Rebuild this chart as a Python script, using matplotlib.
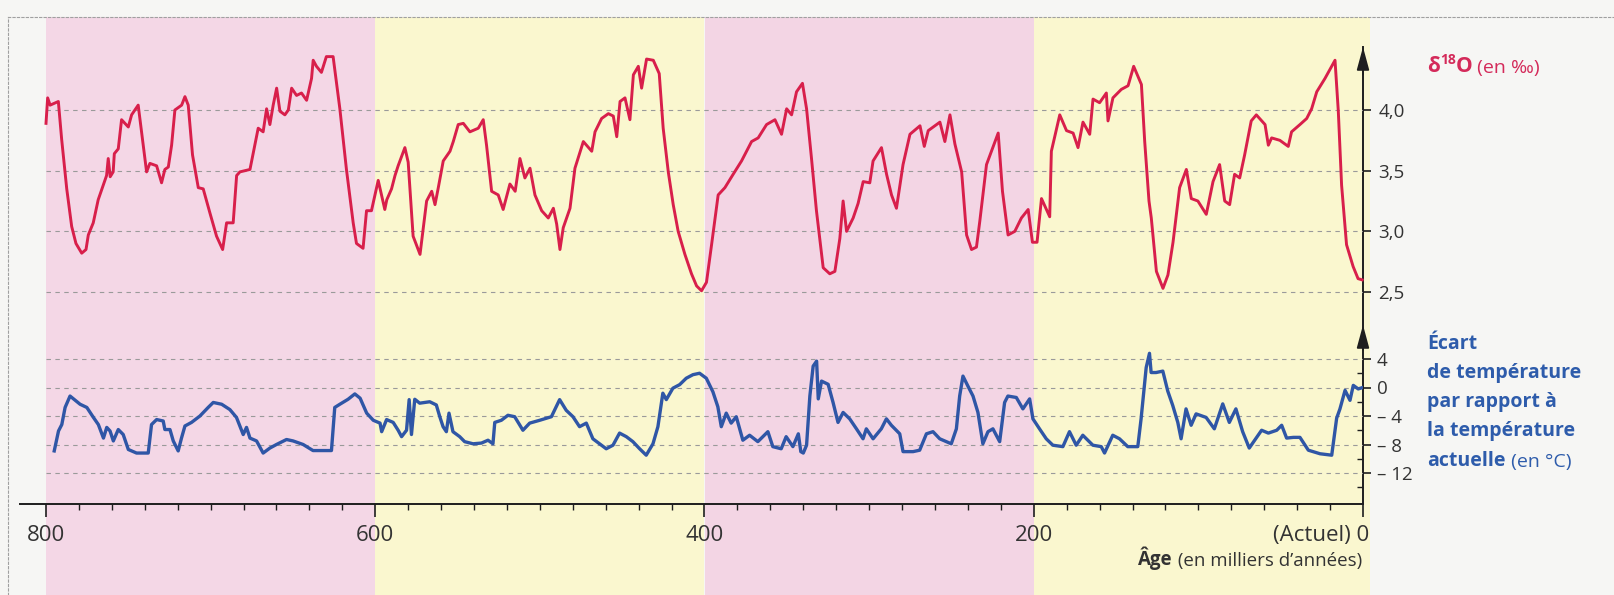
import matplotlib
matplotlib.use("Agg")
import matplotlib.pyplot as plt
from matplotlib.ticker import FixedLocator, MultipleLocator
from matplotlib.transforms import ScaledTranslation

plt.rcParams['font.family'] = ['Open Sans', 'DejaVu Sans']

# ---- data (age in kyr, values) ----
RED_AGE = [800, 799, 797.5, 792.5, 790.5, 787.4, 784.4, 781.8, 778.3, 775.7, 774.3, 771.3, 768.3,
           763.2, 762.2, 761, 759.2, 758.5, 756.1, 754.1, 750, 748, 744, 738.9, 736.9, 732.8, 729.8,
           727.8, 725.7, 723.7, 721.7, 717.6, 715.6, 713.6, 711, 707.5, 704.5, 700.4, 696.4, 692.7,
           690.3, 686.3, 684.2, 682.2, 676.1, 671.1, 668.1, 666, 664, 662, 659.9, 657.9, 654.9, 652.8,
           650.8, 647.8, 644.8, 641.7, 638.7, 637.7, 635.7, 632.7, 629.7, 625.6, 621.5, 617.5, 613.4,
           611.4, 607.4, 605.3, 602.3, 598.2, 594.2, 593, 590.1, 588, 586.1, 582, 580, 577, 572.8,
           570.8, 568.8, 565.7, 563.7, 561.7, 558.7, 554.6, 552.6, 549.6, 546.5, 542.5, 537.4, 534.4,
           532.4, 529.3, 525.3, 522.3, 518.2, 515, 512.1, 509.1, 506, 503, 498.9, 494.9, 491.8, 489.8,
           487.8, 485.8, 481.7, 478.7, 473.6, 468.5, 466.5, 462.5, 458.4, 455.4, 453.3, 451.3, 448.3,
           445.3, 443.2, 440.2, 438.2, 435.2, 431.1, 427.5, 425.1, 422, 419, 416, 411.9, 407.9, 404.8,
           401.8, 398.8, 395.7, 391.7, 387.6, 382.6, 377.5, 371.4, 367.4, 362.3, 357.2, 353.2, 350.1,
           347.1, 344.1, 340.5, 338, 335, 332, 327.9, 323.9, 320.8, 317.8, 315.8, 313.7, 309.7, 306.7,
           303.6, 299.6, 297.6, 292.5, 289.4, 286.4, 283.4, 279.4, 275.2, 269.1, 266.5, 264.1, 257,
           254, 250.9, 247.9, 243.8, 240.8, 237.8, 234.8, 232.8, 228.7, 225.7, 221.6, 219, 215.6,
           211.5, 207.5, 203.4, 200.8, 198, 195.3, 190.3, 189.3, 184.2, 180.1, 176.1, 173.1, 170.1,
           166, 164, 160, 155.9, 154.9, 151.9, 146.8, 142.7, 139.3, 134.6, 132.6, 130, 128.6, 125.5,
           121.5, 118.5, 115.4, 111.4, 107.3, 104.3, 100.3, 95.2, 91.1, 87.1, 84, 81, 78, 74.9, 71.9,
           67.9, 64.8, 59.5, 57.5, 55.5, 50.5, 45.4, 43.4, 38.3, 34.2, 31.2, 28.1, 23.1, 17, 15, 13,
           10, 6, 3, 0.5]
RED_D18O = [3.89, 4.10, 4.04, 4.07, 3.76, 3.35, 3.04, 2.90, 2.82, 2.85, 2.97, 3.07, 3.26,
            3.46, 3.60, 3.45, 3.49, 3.64, 3.68, 3.92, 3.86, 3.96, 4.04, 3.49, 3.56, 3.54, 3.40,
            3.51, 3.53, 3.71, 4.00, 4.04, 4.11, 4.04, 3.63, 3.36, 3.35, 3.15, 2.96, 2.85,
            3.07, 3.07, 3.46, 3.49, 3.51, 3.85, 3.82, 4.01, 3.88, 4.04, 4.18, 3.99, 3.96, 4.00,
            4.18, 4.12, 4.14, 4.08, 4.26, 4.41, 4.36, 4.31, 4.44, 4.44, 4.01, 3.51, 3.07,
            2.90, 2.86, 3.17, 3.17, 3.42, 3.18, 3.26, 3.35, 3.46, 3.54, 3.69, 3.57, 2.96, 2.81,
            3.03, 3.25, 3.33, 3.22, 3.36, 3.58, 3.66, 3.74, 3.88, 3.89, 3.82, 3.85, 3.92,
            3.71, 3.33, 3.30, 3.18, 3.39, 3.33, 3.60, 3.44, 3.52, 3.30, 3.17, 3.11, 3.19, 3.06,
            2.85, 3.03, 3.19, 3.52, 3.74, 3.66, 3.82, 3.93, 3.97, 3.95, 3.78, 4.07, 4.10,
            3.92, 4.29, 4.36, 4.18, 4.42, 4.41, 4.30, 3.85, 3.49, 3.22, 3.00, 2.81, 2.65, 2.55,
            2.51, 2.58, 2.89, 3.30, 3.36, 3.47, 3.58, 3.74, 3.77, 3.88, 3.92, 3.80, 4.01,
            3.96, 4.15, 4.22, 4.01, 3.60, 3.17, 2.70, 2.65, 2.67, 2.94, 3.25, 3.00, 3.11, 3.23,
            3.41, 3.40, 3.58, 3.69, 3.47, 3.30, 3.19, 3.55, 3.80, 3.87, 3.70, 3.83, 3.90,
            3.74, 3.96, 3.72, 3.49, 2.97, 2.85, 2.87, 3.08, 3.55, 3.66, 3.81, 3.33, 2.97,
            3.00, 3.11, 3.18, 2.91, 2.91, 3.27, 3.12, 3.66, 3.96, 3.83, 3.81, 3.69, 3.90,
            3.80, 4.09, 4.06, 4.14, 3.91, 4.10, 4.17, 4.20, 4.36, 4.21, 3.74, 3.25, 3.11, 2.67,
            2.53, 2.64, 2.91, 3.36, 3.51, 3.27, 3.25, 3.14, 3.41, 3.55, 3.25, 3.22, 3.47, 3.44, 3.63,
            3.91, 3.96, 3.88, 3.71, 3.77, 3.75, 3.70, 3.82, 3.88, 3.93, 4.01, 4.15, 4.26, 4.41, 3.99, 3.38,
            2.89, 2.71, 2.61, 2.60]

BLUE_AGE = [795, 792.4, 790.4, 788.4, 785.4, 779.3, 775.2, 771.2, 768.2, 765.1, 763.1, 761.1, 759.1,
            756.1, 753.1, 750, 745, 737.9, 735.9, 732.8, 728.8, 727.8, 724.7, 722.7, 719.7, 717.7,
            715.6, 711.6, 706.5, 701.5, 698.4, 693.3, 688.3, 684.3, 680.2, 678.2, 676.1, 672.1,
            668.1, 664, 660, 653.9, 649.9, 643.8, 637.8, 626.6, 624.6, 621.5, 616.5, 612.4, 609.2,
            605.2, 601.2, 597.1, 596.1, 593.1, 589.1, 586.1, 584, 581, 579.4, 578, 576, 573, 566.9,
            562.9, 560.8, 558.8, 556.8, 555.2, 552.8, 548.7, 545.7, 540.6, 535.5, 531.5, 528.5,
            527.4, 523.4, 519.4, 515.3, 510.3, 506.2, 500.1, 493, 488, 484, 479.9, 475.9, 471.8,
            467.8, 463.7, 459.7, 455.6, 451.6, 447.5, 443.5, 439.4, 435.4, 431.3, 428.3, 425.3,
            423.2, 419.2, 415.1, 411.1, 407, 403, 398.9, 394.9, 391.9, 389.8, 386.8, 383.8, 380.7,
            376.7, 372.6, 367.6, 361.5, 358.5, 353.4, 350.4, 346.3, 343, 341.5, 340, 338, 336, 334,
            331.9, 330.9, 328.9, 324.9, 321.9, 318.9, 315.8, 311.8, 307.7, 303.7, 301.7, 297.6,
            292.6, 289.5, 286.5, 281.4, 279.4, 273.3, 269.3, 265.2, 261.2, 257.1, 253.1, 250.1, 247,
            245, 243, 240, 236.9, 233.9, 230.9, 227.8, 224.8, 220.7, 217.7, 215.7, 210.6, 206.6,
            202.5, 200.5, 196.5, 192.4, 188.4, 182.3, 178.3, 174.2, 170.2, 164.1, 159, 157, 152,
            147.9, 142.9, 136.8, 134.8, 131.7, 129.7, 128.7, 125.7, 121.6, 118.6, 115.6, 112.5,
            110.5, 107.5, 104.4, 101.4, 95.3, 90.3, 85.2, 81.2, 77.2, 73.1, 69.1, 64.6, 61.6, 57.5,
            52.4, 49.4, 46.4, 42.3, 38.3, 33.2, 26.1, 19, 16, 14, 10.9, 7.9, 5.9, 2.9, 0.2]
BLUE_DT = [-8.9, -6.1, -5.2, -2.8, -1.2, -2.35, -2.8, -4.2, -5.2, -7.1, -5.6, -6.1, -7.5,
           -5.9, -6.6, -8.7, -9.2, -9.2, -5.2, -4.5, -4.7, -5.9, -5.9, -7.5, -8.9, -7.1,
           -5.4, -4.9, -4.0, -2.8, -2.1, -2.35, -3.1, -4.2, -6.6, -5.6, -7.1, -7.5,
           -9.2, -8.5, -8.0, -7.3, -7.5, -8.0, -8.85, -8.85, -2.8, -2.35, -1.65, -0.9, -1.5,
           -3.6, -4.6, -5.0, -6.2, -4.5, -4.9, -6.0, -6.9, -6.0, -1.7, -6.6, -1.65, -2.2, -2.0,
           -2.45, -4.1, -5.5, -6.2, -3.6, -6.2, -6.9, -7.6, -7.9, -7.8, -7.4, -7.9,
           -4.9, -4.6, -3.9, -4.1, -6.0, -5.0, -4.6, -4.1, -1.7, -3.2, -4.1, -5.5, -5.0,
           -7.2, -7.9, -8.6, -8.1, -6.4, -6.9, -7.6, -8.6, -9.5, -7.9, -5.5, -0.8,
           -1.7, -0.1, 0.4, 1.3, 1.8, 2.0, 1.3, -0.6, -2.7, -5.5, -3.6, -5.0, -4.1,
           -7.4, -6.7, -7.6, -6.2, -8.3, -8.6, -6.9, -8.3, -6.5, -9.0, -9.2, -8.1, -1.2, 3.0,
           3.7, -1.6, 0.9, 0.45, -2.1, -4.9, -3.5, -4.4, -5.8, -7.2, -5.8, -7.2,
           -5.8, -4.4, -5.3, -6.5, -9.0, -9.0, -8.8, -6.5, -6.2, -7.2, -7.6, -7.9, -5.8,
           -1.2, 1.6, 0.2, -1.2, -3.5, -7.9, -6.2, -5.8, -7.6, -2.1, -1.2, -1.4, -3.0,
           -1.6, -4.4, -5.8, -7.2, -8.1, -8.3, -6.2, -8.1, -6.7, -8.1, -8.3, -9.2, -6.7,
           -7.2, -8.3, -8.3, -4.4, 2.8, 4.8, 2.1, 2.1, 2.3, -0.5, -2.5, -4.9,
           -7.2, -3.0, -5.3, -3.7, -4.2, -5.8, -2.3, -4.9, -3.0, -6.2, -8.5, -7.0, -6.0, -6.4,
           -6.0, -5.3, -7.1, -7.0, -7.0, -8.8, -9.3, -9.5, -4.3, -3.0, -0.4, -1.8, 0.3, -0.2, 0.0]

BAND_EDGES = [800, 600, 400, 200, -4]
BAND_COLORS = ['#f4d7e6', '#faf7cf', '#f3d5e4', '#faf7cf']

AGE_TICKS = [800, 600, 400, 200, 0]
AGE_LABELS = ['800', '600', '400', '200', '(Actuel) 0']
RED_TICKS = [2.5, 3.0, 3.5, 4.0]
RED_LABELS = ['2,5', '3,0', '3,5', '4,0']
BLUE_TICKS = [-12, -8, -4, 0, 4]
BLUE_LABELS = ['– 12', '– 8', '– 4', '0', '4']

RED = '#d81f4b'
BLUE = '#2f56a6'
RED_TXT = '#d42a5a'
BLUE_TXT = '#2e5cab'
INK = '#1e1e1e'
GRID = '#9a9a9a'

# ---- figure layout, in pixels of the 1614x595 output ----
W, H = 1614, 595
fig = plt.figure(figsize=(W / 100, H / 100), dpi=100, facecolor='#f6f6f4')

X0 = 1363            # pixel of age 0 (the vertical axis)
K = 1317 / 800       # pixels per kyr


def age_at(px):
    return (X0 - px) / K


def px_axes(left, top, right, bottom):
    return fig.add_axes([left / W, 1 - bottom / H, (right - left) / W, (bottom - top) / H])


def fy(py):
    return 1 - py / H


def chain(prev, text, dy=0, **kw):
    # put a piece of text right after the previous one
    a = plt.Annotation(text, xy=(1, 0), xycoords=prev, xytext=(0, dy),
                       textcoords='offset points', va='bottom', **kw)
    fig.add_artist(a)
    return a


# background bands + faint page frame
bg = px_axes(8, 17, W, H)
bg.set_xlim(age_at(8), age_at(W))
bg.set_ylim(0, 1)
bg.patch.set_visible(False)
bg.set_xticks([])
bg.set_yticks([])
for a, b, c in zip(BAND_EDGES[:-1], BAND_EDGES[1:], BAND_COLORS):
    bg.axvspan(b, a, color=c, lw=0)
for s in ['right', 'bottom']:
    bg.spines[s].set_visible(False)
for s in ['top', 'left']:
    bg.spines[s].set_color('#a0a0a0')
    bg.spines[s].set_linewidth(0.8)
    bg.spines[s].set_linestyle((0, (2, 2)))

# frame: time axis + vertical axis on the right
frame = px_axes(20, 47, X0, 504)
frame.set_xlim(age_at(20), 0)
frame.set_ylim(0, 1)
frame.patch.set_visible(False)
for s in ['top', 'left']:
    frame.spines[s].set_visible(False)
for s in ['bottom', 'right']:
    frame.spines[s].set_color(INK)
    frame.spines[s].set_linewidth(1.4)
frame.set_yticks([])
frame.set_xticks(AGE_TICKS, labels=AGE_LABELS)
frame.xaxis.set_minor_locator(MultipleLocator(20))
frame.tick_params(axis='x', which='major', length=9, width=1.2, direction='out',
                  colors=INK, labelcolor='#333333', labelsize=16, pad=6)
frame.tick_params(axis='x', which='minor', length=4.5, width=1.0, direction='out', colors=INK)
last = frame.xaxis.get_major_ticks()[-1].label1
last.set_horizontalalignment('right')
last.set_transform(last.get_transform() + ScaledTranslation(0.065, 0, fig.dpi_scale_trans))

arrow = dict(arrowstyle='-|>,head_length=1.4,head_width=0.38', color=INK, lw=1.3,
             shrinkA=0, shrinkB=0)
frame.annotate('', xy=(1, 1.0), xytext=(1, 0.94), xycoords='axes fraction',
               arrowprops=arrow, annotation_clip=False)
frame.annotate('', xy=(1, (504 - 325) / (504 - 47)), xytext=(1, (504 - 350) / (504 - 47)),
               xycoords='axes fraction', arrowprops=arrow, annotation_clip=False)

# red: delta 18 O
ax_r = px_axes(20, 47, X0, 300)
r_per = (292 - 110) / 1.5
ax_r.set_ylim(2.5 - (300 - 292) / r_per, 4.0 + (110 - 47) / r_per)
ax_r.set_xlim(age_at(20), 0)
ax_r.patch.set_visible(False)
for s in ax_r.spines.values():
    s.set_visible(False)
ax_r.set_xticks([])
ax_r.yaxis.tick_right()
ax_r.set_yticks(RED_TICKS, labels=RED_LABELS)
ax_r.tick_params(axis='y', length=6, width=1.2, direction='out', colors=INK,
                 labelcolor='#333333', labelsize=13.5, pad=5)
ax_r.hlines(RED_TICKS, 800, 0, colors=GRID, lw=0.8, linestyles=(0, (4, 4)))
ax_r.plot(RED_AGE, RED_D18O, color=RED, lw=2.1, solid_joinstyle='round', clip_on=False)

# blue: temperature anomaly
ax_b = px_axes(20, 325, X0, 504)
b_per = (473 - 359) / 16
ax_b.set_ylim(-12 - (504 - 473) / b_per, 4 + (359 - 325) / b_per)
ax_b.set_xlim(age_at(20), 0)
ax_b.patch.set_visible(False)
for s in ax_b.spines.values():
    s.set_visible(False)
ax_b.set_xticks([])
ax_b.yaxis.tick_right()
ax_b.set_yticks(BLUE_TICKS, labels=BLUE_LABELS)
ax_b.yaxis.set_minor_locator(FixedLocator([2, -2, -6, -10, -14]))
ax_b.tick_params(axis='y', which='major', length=6, width=1.2, direction='out', colors=INK,
                 labelcolor='#333333', labelsize=13.5, pad=4)
ax_b.tick_params(axis='y', which='minor', length=4, width=1.0, direction='in', colors=INK)
ax_b.hlines(BLUE_TICKS, 800, 0, colors=GRID, lw=0.8, linestyles=(0, (4, 4)))
ax_b.plot(BLUE_AGE, BLUE_DT, color=BLUE, lw=2.4, solid_joinstyle='round')

# texts
t = fig.text(1427 / W, fy(77), 'δ', color=RED_TXT, fontsize=15, fontweight='bold', va='bottom')
t = chain(t, '18', dy=7, color=RED_TXT, fontsize=10, fontweight='bold')
t = chain(t, 'O', dy=-7, color=RED_TXT, fontsize=15, fontweight='bold')
chain(t, ' (en ‰)', color=RED_TXT, fontsize=14)

blue_lines = ['Écart', 'de température', 'par rapport à', 'la température']
for i, line in enumerate(blue_lines):
    fig.text(1427 / W, fy(349 + 29 * i), line, color=BLUE_TXT, fontsize=14,
             fontweight='bold', va='baseline')
t = fig.text(1427 / W, fy(471), 'actuelle', color=BLUE_TXT, fontsize=14, fontweight='bold',
             va='bottom')
chain(t, ' (en °C)', color=BLUE_TXT, fontsize=14)

t = fig.text(1362 / W, fy(570), ' (en milliers d’années)', color='#333333', fontsize=13.5,
             ha='right', va='bottom')
fig.add_artist(plt.Annotation('Âge', xy=(0, 0), xycoords=t, color='#333333', fontsize=13.5,
                              fontweight='bold', ha='right', va='bottom'))

fig.savefig('out.png', dpi=100, facecolor=fig.get_facecolor())
